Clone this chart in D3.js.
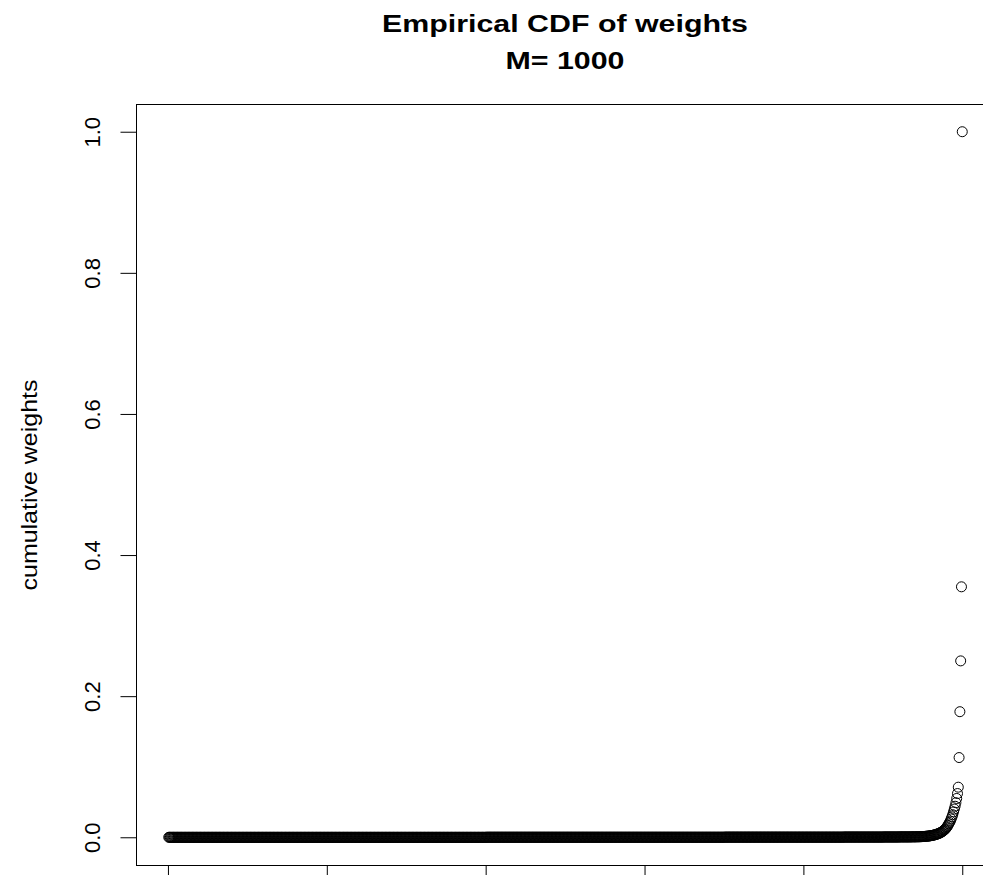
<!DOCTYPE html>
<html>
<head>
<meta charset="utf-8">
<script src="https://cdn.jsdelivr.net/npm/d3@7"></script>
<style>
  html, body { margin: 0; padding: 0; background: #fff; }
  svg { display: block; }
  text { font-family: "Liberation Sans", Arial, Helvetica, sans-serif; fill: #000; }
</style>
</head>
<body>
<script>
// Titles and axis text
const titleLines = ["Empirical CDF of weights", "M= 1000"];
const yAxisLabel = "cumulative weights";
const yTicks = [0, 0.2, 0.4, 0.6, 0.8, 1.0];
const yTickLabels = ["0.0", "0.2", "0.4", "0.6", "0.8", "1.0"];
const xTicks = [0, 200, 400, 600, 800, 1000];

// Cumulative sum of the sorted particle weights, particle 1 .. 1000
const cumWeights = [
  // 1-400
  0,0,0,0,0,0,0,0,0,0, 0,0,0,0,0,0,0,0,0,0, 0,0,0,0,0,0,0,0,0,0, 0,0,0,0,0,0,0,0,0,0, 0,0,0,0,0,0,0,0,0,0,
  0,0,0,0,0,0,0,0,0,0, 0,0,0,0,0,0,0,0,0,0, 0,0,0,0,0,0,0,0,0,0, 0,0,0,0,0,0,0,0,0,0, 0,0,0,0,0,0,0,0,0,0,
  0,0,0,0,0,0,0,0,0,0, 0,0,0,0,0,0,0,0,0,0, 0,0,0,0,0,0,0,0,0,0, 0,0,0,0,0,0,0,0,0,0, 0,0,0,0,0,0,0,0,0,0,
  0,0,0,0,0,0,0,0,0,0, 0,0,0,0,0,0,0,0,0,0, 0,0,0,0,0,0,0,0,0,0, 0,0,0,0,0,0,0,0,0,0, 0,0,0,0,0,0,0,0,0,0,
  0,0,0,0,0,0,0,0,0,0, 0,0,0,0,0,0,0,0,0,0, 0,0,0,0,0,0,0,0,0,0, 0,0,0,0,0,0,0,0,0,0, 0,0,0,0,0,0,0,0,0,0,
  0,0,0,0,0,0,0,0,0,0, 0,0,0,0,0,0,0,0,0,0, 0,0,0,0,0,0,0,0,0,0, 0,0,0,0,0,0,0,0,0,0, 0,0,0,0,0,0,0,0,0,0,
  0,0,0,0,0,0,0,0,0,0, 0,0,0,0,0,0,0,0,0,0, 0,0,0,0,0,0,0,0,0,0, 0,0,0,0,0,0,0,0,0,0, 0,0,0,0,0,0,0,0,0,0,
  0,0,0,0,0,0,0,0,0,0, 0,0,0,0,0,0,0,0,0,0, 0,0,0,0,0,0,0,0,0,0, 0,0,0,0,0,0,0,0,0,0, 0,0,0,0,0,0,0,0,0,0,
  // 401-700
  .0001,.0001,.0001,.0001,.0001,.0001,.0001,.0001,.0001,.0001, .0001,.0001,.0001,.0001,.0001,.0001,.0001,.0001,.0001,.0001, .0001,.0001,.0001,.0001,.0001,.0001,.0001,.0001,.0001,.0001, .0001,.0001,.0001,.0001,.0001,.0001,.0001,.0001,.0001,.0001, .0001,.0001,.0001,.0001,.0001,.0001,.0001,.0001,.0001,.0001,
  .0001,.0001,.0001,.0001,.0001,.0001,.0001,.0001,.0001,.0001, .0001,.0001,.0001,.0001,.0001,.0001,.0001,.0001,.0001,.0001, .0001,.0001,.0001,.0001,.0001,.0001,.0001,.0001,.0001,.0001, .0001,.0001,.0001,.0001,.0001,.0001,.0001,.0001,.0001,.0001, .0001,.0001,.0001,.0001,.0001,.0001,.0001,.0001,.0001,.0001,
  .0001,.0001,.0001,.0001,.0001,.0001,.0001,.0001,.0001,.0001, .0001,.0001,.0001,.0001,.0001,.0001,.0001,.0001,.0001,.0001, .0001,.0001,.0001,.0001,.0001,.0001,.0001,.0001,.0001,.0001, .0001,.0001,.0001,.0001,.0001,.0001,.0001,.0001,.0001,.0001, .0001,.0001,.0001,.0001,.0001,.0001,.0001,.0001,.0001,.0001,
  .0001,.0001,.0001,.0001,.0001,.0001,.0001,.0001,.0001,.0001, .0001,.0001,.0001,.0001,.0001,.0001,.0001,.0001,.0001,.0001, .0001,.0001,.0001,.0001,.0001,.0001,.0001,.0001,.0001,.0001, .0001,.0001,.0001,.0001,.0001,.0001,.0001,.0001,.0001,.0001, .0001,.0001,.0001,.0001,.0001,.0001,.0001,.0001,.0001,.0001,
  .0001,.0001,.0001,.0001,.0001,.0001,.0001,.0001,.0001,.0001, .0001,.0001,.0001,.0001,.0001,.0001,.0001,.0001,.0001,.0001, .0001,.0001,.0001,.0001,.0001,.0001,.0001,.0001,.0001,.0001, .0001,.0001,.0001,.0001,.0001,.0001,.0001,.0001,.0001,.0001, .0001,.0001,.0001,.0001,.0001,.0001,.0001,.0001,.0001,.0001,
  .0001,.0001,.0001,.0001,.0001,.0001,.0001,.0001,.0001,.0001, .0001,.0001,.0001,.0001,.0001,.0001,.0001,.0001,.0001,.0001, .0001,.0001,.0001,.0001,.0001,.0001,.0001,.0001,.0001,.0001, .0001,.0001,.0001,.0001,.0001,.0001,.0001,.0001,.0001,.0001, .0001,.0001,.0001,.0001,.0001,.0001,.0001,.0001,.0001,.0001,
  // 701-850
  .0002,.0002,.0002,.0002,.0002,.0002,.0002,.0002,.0002,.0002, .0002,.0002,.0002,.0002,.0002,.0002,.0002,.0002,.0002,.0002, .0002,.0002,.0002,.0002,.0002,.0002,.0002,.0002,.0002,.0002, .0002,.0002,.0002,.0002,.0002,.0002,.0002,.0002,.0002,.0002, .0002,.0002,.0002,.0002,.0002,.0002,.0002,.0002,.0002,.0002,
  .0002,.0002,.0002,.0002,.0002,.0002,.0002,.0002,.0002,.0002, .0002,.0002,.0002,.0002,.0002,.0002,.0002,.0002,.0002,.0002, .0002,.0002,.0002,.0002,.0002,.0002,.0002,.0002,.0002,.0002, .0002,.0002,.0002,.0002,.0002,.0002,.0002,.0002,.0002,.0002, .0002,.0002,.0002,.0002,.0002,.0002,.0002,.0002,.0002,.0002,
  .0002,.0002,.0002,.0002,.0002,.0002,.0002,.0002,.0002,.0002, .0002,.0002,.0002,.0002,.0002,.0002,.0002,.0002,.0002,.0002, .0002,.0002,.0002,.0002,.0002,.0002,.0002,.0002,.0002,.0002, .0002,.0002,.0002,.0002,.0002,.0002,.0002,.0002,.0002,.0002, .0002,.0002,.0002,.0002,.0002,.0002,.0002,.0002,.0002,.0002,
  // 851-900
  .0003,.0003,.0003,.0003,.0003,.0003,.0003,.0003,.0003,.0003, .0003,.0003,.0003,.0003,.0003,.0003,.0003,.0003,.0003,.0003, .0003,.0003,.0003,.0003,.0003,.0003,.0003,.0003,.0003,.0003, .0003,.0003,.0003,.0003,.0003,.0003,.0003,.0003,.0003,.0003, .0003,.0003,.0003,.0003,.0003,.0003,.0003,.0003,.0003,.0003,
  // 901-949
  .0004,.0004,.0004,.0004,.0004,.0004,.0004,.0004,.0004,.0004, .0004,.0004,.0004,.0004,.0004,.0004,.0004,.0004,.0004,.0004,
  .0005,.0005,.0005,.0005,.0005,.0005,.0005,.0005,.0005,.0005, .0005,.0005,.0005,.0005,.0005,
  .0006,.0006,.0006,.0006,.0006,.0006,.0006,
  .0007,.0007,.0007,.0007, .0008,.0008, .0009,
  // 950-1000
  .0010,.0011,.0012,.0013,.0014,.0015,.0016,.0017,.0018,
  .0020,.0022,.0024,.0026,.0028,.0031,.0034,.0037,.0040,.0044,
  .0048,.0052,.0057,.0062,.0068,.0075,.0082,.0090,.0100,.0110,.0120,.0135,
  .015,.017,.019,.021,.023,.026,.029,.032,.036,.040,
  .044,.049,.055,.062,.071,.113,.178,.250,.355,1.000
];

const W = 983, H = 875;
const svg = d3.select("body").append("svg")
  .attr("width", W).attr("height", H)
  .style("overflow", "hidden");

// Plot region follows the usual 4% padding on both axes
const n = cumWeights.length;
const xPad = 0.04 * (n - 1);
const x = d3.scaleLinear().domain([1 - xPad, n + xPad]).range([137, 994]);
const y = d3.scaleLinear().domain([-0.04, 1.04]).range([865.5, 103.5]);

// Frame around the plot region
svg.append("rect")
  .attr("x", 136.5).attr("y", 104.5)
  .attr("width", 994 - 136.5).attr("height", 865.5 - 104.5)
  .attr("fill", "none").attr("stroke", "#000").attr("stroke-width", 1);

// Left axis: ticks with labels turned parallel to the axis
const yAxis = svg.append("g")
  .attr("transform", "translate(136.5,0)")
  .call(d3.axisLeft(y).tickValues(yTicks).tickSize(16)
        .tickFormat((d, i) => yTickLabels[i]));
yAxis.select(".domain").remove();
yAxis.selectAll(".tick line").attr("stroke", "#000");
yAxis.selectAll(".tick text")
  .attr("x", 0).attr("y", -36.5).attr("dy", 0)
  .attr("transform", "rotate(-90)")
  .attr("text-anchor", "middle")
  .style("font-size", "22px")
  .style("font-family", "\"Liberation Sans\", Arial, sans-serif")
  .attr("fill", "#000");

// Bottom axis ticks
const xAxis = svg.append("g")
  .attr("transform", "translate(0,865.5)")
  .call(d3.axisBottom(x).tickValues(xTicks).tickSize(16).tickFormat(""));
xAxis.select(".domain").remove();
xAxis.selectAll(".tick line").attr("stroke", "#000");

// Points: open circles
svg.append("g").selectAll("circle")
  .data(cumWeights)
  .join("circle")
  .attr("cx", (d, i) => x(i + 1))
  .attr("cy", d => y(d))
  .attr("r", 5)
  .attr("fill", "none")
  .attr("stroke", "#000")
  .attr("stroke-width", 1);

// Axis title
svg.append("text")
  .attr("transform", "translate(36.5,485) rotate(-90)")
  .attr("text-anchor", "middle")
  .attr("textLength", 211)
  .attr("lengthAdjust", "spacingAndGlyphs")
  .style("font-size", "22px")
  .text(yAxisLabel);

// Main title, two lines
const titleY = [31.5, 69];
const titleLen = [366, 119];
titleLines.forEach((t, i) => {
  svg.append("text")
    .attr("x", 565).attr("y", titleY[i])
    .attr("text-anchor", "middle")
    .attr("textLength", titleLen[i])
    .attr("lengthAdjust", "spacingAndGlyphs")
    .style("font-size", "23px")
    .style("font-weight", "bold")
    .text(t);
});
</script>
</body>
</html>
